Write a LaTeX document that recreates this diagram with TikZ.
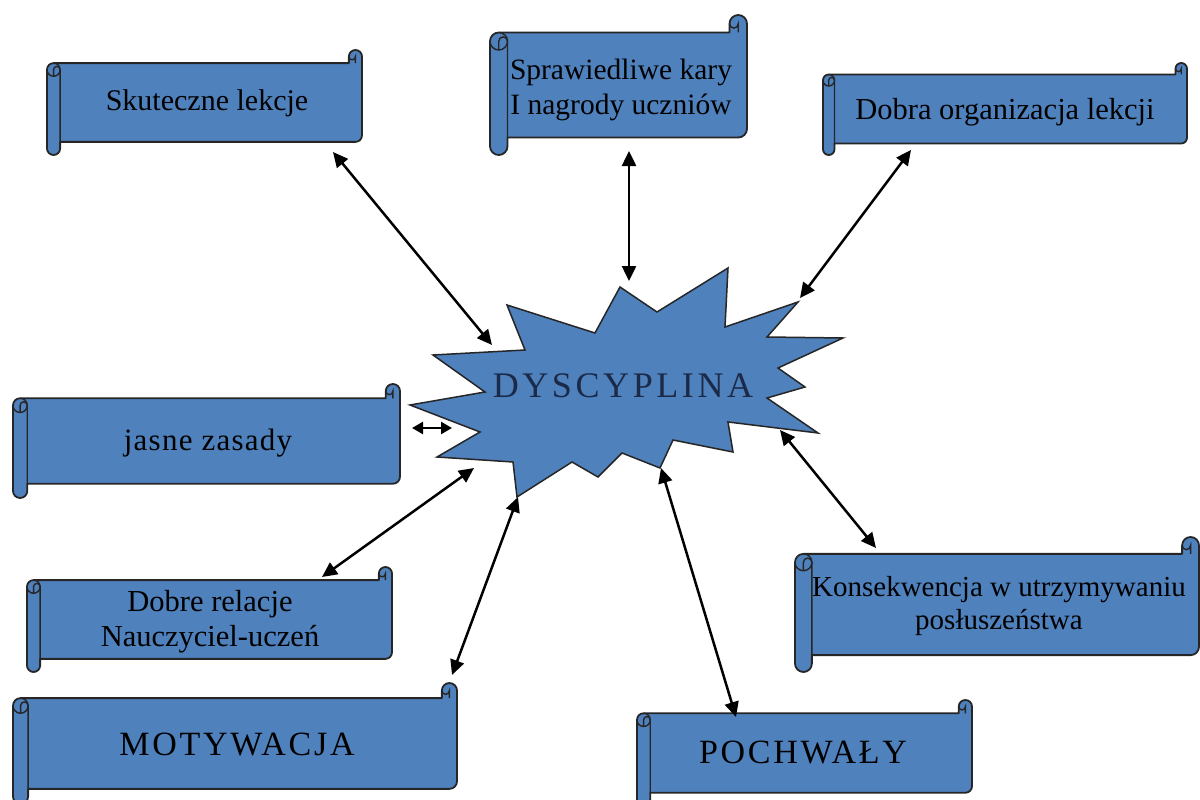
\documentclass[tikz,border=0pt]{standalone}
\usepackage{fontspec}
\setmainfont{Liberation Serif}
\newfontfamily\spacedfont[LetterSpace=4]{Liberation Serif}
\newfontfamily\capsfont[LetterSpace=8]{Liberation Serif}
\newfontfamily\starfont[LetterSpace=10]{Liberation Serif}
\usetikzlibrary{arrows.meta}
\definecolor{scrollblue}{HTML}{4F81BD}
\definecolor{edgecol}{HTML}{262626}
\definecolor{startext}{HTML}{1B2A48}
\tikzset{
  scrollshape/.style={fill=scrollblue, draw=edgecol, line width=1.8pt, line join=round},
  starshape/.style={fill=scrollblue, draw=edgecol, line width=1.5pt, line join=miter},
  scrolldetail/.style={draw=edgecol, line width=1.4pt},
  txt/.style={text=black, align=center, inner sep=0pt},
  conn/.style={draw=black, line width=2.5pt, {Triangle[length=15pt,width=14pt]}-{Triangle[length=15pt,width=14pt]}},
}
\newcommand{\scrollat}[4]{%
  \pgfmathsetmacro\sL{#1}\pgfmathsetmacro\sT{#2}\pgfmathsetmacro\sR{#3}\pgfmathsetmacro\sB{#4}%
  \pgfmathsetmacro\sC{0.125*min(\sR-\sL,\sB-\sT)}%
  \pgfmathsetmacro\sH{\sC/2}\pgfmathsetmacro\sQ{\sC/4}%
  \path[scrollshape] (\sL+\sH,\sT+\sC) -- (\sR-\sC,\sT+\sC) -- (\sR-\sC,\sT+\sH)
    arc[start angle=180,end angle=360,radius=\sH] -- (\sR,\sB-\sC-\sH)
    arc[start angle=0,end angle=90,radius=\sH] -- (\sL+\sC,\sB-\sC) -- (\sL+\sC,\sB-\sH)
    arc[start angle=0,end angle=180,radius=\sH] -- (\sL,\sT+\sC+\sH)
    arc[start angle=180,end angle=270,radius=\sH] -- cycle;
  \draw[scrolldetail] (\sL+\sH,\sT+\sC) arc[start angle=270,end angle=360,radius=\sH] -- (\sL+\sC,\sB-\sC);
  \draw[scrolldetail] (\sL+\sH,\sT+2*\sC) -- (\sL+\sH,\sT+\sC+\sH)
    arc[start angle=180,end angle=360,radius=\sQ] arc[start angle=0,end angle=180,radius=\sH];
  \draw[scrolldetail] (\sR-\sH,\sT+\sC) -- (\sR-\sH,\sT+\sH) arc[start angle=0,end angle=180,radius=\sQ];
}
\begin{document}
\begin{tikzpicture}[x=1pt,y=-1pt]
\useasboundingbox (0,0) rectangle (1200,800);
\fill[white] (0,0) rectangle (1200,800);

% scrolls
\scrollat{47}{50}{362}{155}
\scrollat{490}{15}{747}{155}
\scrollat{823}{63}{1187}{155}
\scrollat{13}{384}{400}{498}
\scrollat{27}{567}{392}{672}
\scrollat{795}{537}{1199}{672}
\scrollat{13}{683}{457}{804}
\scrollat{637}{700}{972}{806}

% star
\path[starshape] (433,355) -- (525,350) -- (507,305) -- (595,333) -- (620,287) -- (657,312)
  -- (728,268) -- (725,327) -- (798,302) -- (767,337) -- (843,338) -- (778,368) -- (805,387)
  -- (767,398) -- (818,433) -- (728,422) -- (733,452) -- (673,440) -- (660,468) -- (622,453)
  -- (598,477) -- (572,462) -- (517,497) -- (513,462) -- (437,457) -- (480,432) -- (410,405)
  -- (485,392) -- cycle;

% texts
\node[txt, font=\fontsize{30}{36}\selectfont] (skut) at (207,103) {Skuteczne lekcje};
\node[txt, font=\fontsize{29.5}{35}\selectfont] (spraw) at (621,90) {Sprawiedliwe kary\\I nagrody uczniów};
\node[txt, font=\fontsize{30.5}{36}\selectfont] (dobra) at (1005,112) {Dobra organizacja lekcji};
\node[txt, font=\spacedfont\fontsize{31}{36}\selectfont] (jasne) at (208,443) {jasne zasady};
\node[txt, font=\fontsize{30.5}{35}\selectfont] (relacje) at (210,622) {Dobre relacje\\Nauczyciel-uczeń};
\node[txt, font=\fontsize{29}{33}\selectfont] (konsek) at (999,606) {Konsekwencja w utrzymywaniu\\posłuszeństwa};
\node[txt, font=\capsfont\fontsize{34}{38}\selectfont] (motyw) at (237,744) {MOTYWACJA};
\node[txt, font=\capsfont\fontsize{34}{38}\selectfont] (pochw) at (803,752) {POCHWAŁY};
\node[txt, text=startext, font=\starfont\fontsize{36}{40}\selectfont] (star) at (623,386) {DYSCYPLINA};

% connector ends
\coordinate (skut-e) at (333,152);   \coordinate (star-skut) at (492,345);
\coordinate (spraw-e) at (629,151);  \coordinate (star-spraw) at (629,281);
\coordinate (dobra-e) at (911,150);  \coordinate (star-dobra) at (800,298);
\coordinate (jasne-e) at (412,428);  \coordinate (star-jasne) at (452,428);
\coordinate (relacje-e) at (322,577);\coordinate (star-relacje) at (474,468);
\coordinate (motyw-e) at (452,675);  \coordinate (star-motyw) at (518,497);
\coordinate (pochw-e) at (736,717);  \coordinate (star-pochw) at (661,468);
\coordinate (konsek-e) at (876,548); \coordinate (star-konsek) at (780,430);

\draw[conn] (skut-e) -- (star-skut);
\draw[conn] (spraw-e) -- (star-spraw);
\draw[conn] (dobra-e) -- (star-dobra);
\draw[conn, {Triangle[length=11pt,width=12pt]}-{Triangle[length=11pt,width=12pt]}] (jasne-e) -- (star-jasne);
\draw[conn] (relacje-e) -- (star-relacje);
\draw[conn] (motyw-e) -- (star-motyw);
\draw[conn] (pochw-e) -- (star-pochw);
\draw[conn] (konsek-e) -- (star-konsek);
\end{tikzpicture}
\end{document}
